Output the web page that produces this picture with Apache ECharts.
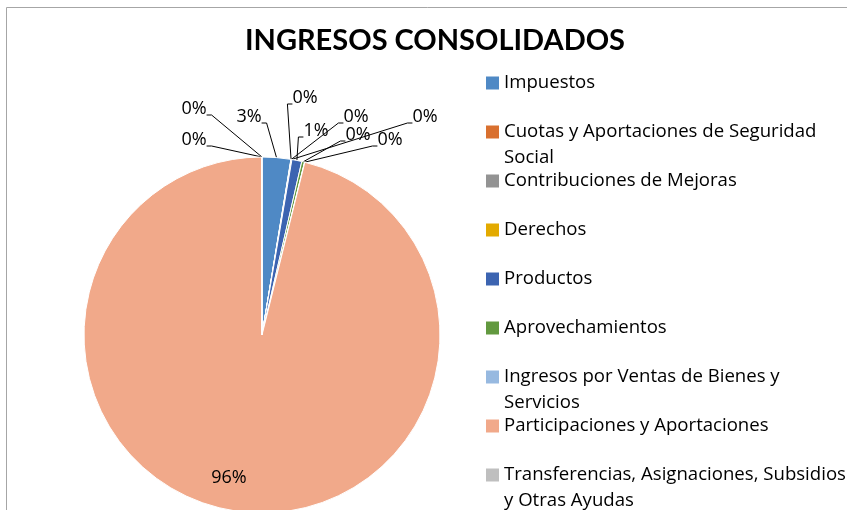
<!DOCTYPE html>
<html>
<head>
<meta charset="utf-8">
<title>Ingresos consolidados</title>
<script src="https://cdn.jsdelivr.net/npm/echarts@6/dist/echarts.min.js"></script>
<style>
  body { margin: 0; background: #fff; }
  #chart { width: 847px; height: 510px; }
</style>
</head>
<body>
<div id="chart"></div>
<script>
// categorias (el \n marca el corte de linea en la leyenda)
var categories = [
  'Impuestos',
  'Cuotas y Aportaciones de Seguridad\nSocial',
  'Contribuciones de Mejoras',
  'Derechos',
  'Productos',
  'Aprovechamientos',
  'Ingresos por Ventas de Bienes y\nServicios',
  'Participaciones y Aportaciones',
  'Transferencias, Asignaciones, Subsidios\ny Otras Ayudas',
  'Ingresos Derivados de Financiamientos'
];
// porcentaje del total
var values = [2.6, 0.02, 0.02, 0.05, 0.9, 0.25, 0.03, 96.1, 0.02, 0.01];
var colors = ['#4f89c5', '#d9702f', '#939393', '#e3aa00', '#3c64b1',
              '#62993f', '#97b9e0', '#f1a98a', '#bfbfbf', '#ffd24d'];

// donde van las etiquetas (estilo Excel, en abanico sobre el pastel)
var labelPos = [[249, 117], [305, 98], [356, 117], [425, 117], [316, 131],
                [358, 135], [390, 140], null, [194, 140], [194, 109]];

var font = '"Open Sans", sans-serif';

var data = [];
for (var i = 0; i < categories.length; i++) {
  var item = { name: categories[i], value: values[i] };
  if (values[i] > 50) {
    item.label = { position: 'inside' };
  }
  data.push(item);
}

var chart = echarts.init(document.getElementById('chart'));
chart.setOption({
  color: colors,
  animation: false,
  title: {
    text: 'INGRESOS CONSOLIDADOS',
    left: 430,
    textAlign: 'center',
    top: 21,
    textStyle: { fontFamily: 'Lato, sans-serif', fontSize: 29, fontWeight: 'bold', color: '#000' }
  },
  legend: {
    orient: 'vertical',
    left: 486,
    top: 44,
    padding: 0,
    height: 700,
    itemWidth: 13,
    itemHeight: 13,
    itemGap: -29,
    icon: 'rect',
    itemStyle: { borderWidth: 0 },
    textStyle: { fontFamily: font, fontSize: 18.6, lineHeight: 26, color: '#000' },
    formatter: function (name) {
      // la primera linea queda centrada con el icono
      return '\n' + name + (name.indexOf('\n') < 0 ? '\n' : '');
    },
    data: categories
  },
  graphic: [{
    type: 'rect',
    shape: { x: 6.5, y: 7.5, width: 900, height: 600 },
    style: { fill: 'none', stroke: '#a6a6a6', lineWidth: 1 },
    silent: true
  }],
  series: [{
    type: 'pie',
    center: [262, 335],
    radius: 178,
    startAngle: 90,
    clockwise: true,
    avoidLabelOverlap: false,
    itemStyle: { borderColor: '#fff', borderWidth: 1 },
    label: {
      fontFamily: font,
      fontSize: 18,
      color: '#000',
      formatter: function (p) { return Math.round(p.percent) + '%'; }
    },
    labelLine: { length: 30, length2: 10, lineStyle: { color: '#000', width: 1 } },
    labelLayout: function (p) {
      if (p.dataIndex === 7) return { dx: -22, dy: 52 };
      var pos = labelPos[p.dataIndex];
      if (!pos || !p.labelLinePoints) return;
      var start = p.labelLinePoints[0];
      var half = p.labelRect.width / 2;
      var toRight = pos[0] > start[0] + 8;
      var endX = toRight ? pos[0] - half : pos[0] + half;
      var endY = pos[1] + 6;
      var bendX = toRight ? endX - 5 : endX + 5;
      return {
        x: pos[0], y: pos[1], align: 'center', verticalAlign: 'middle',
        labelLinePoints: [start, [bendX, endY], [endX, endY]]
      };
    },
    data: data
  }]
});
</script>
</body>
</html>
